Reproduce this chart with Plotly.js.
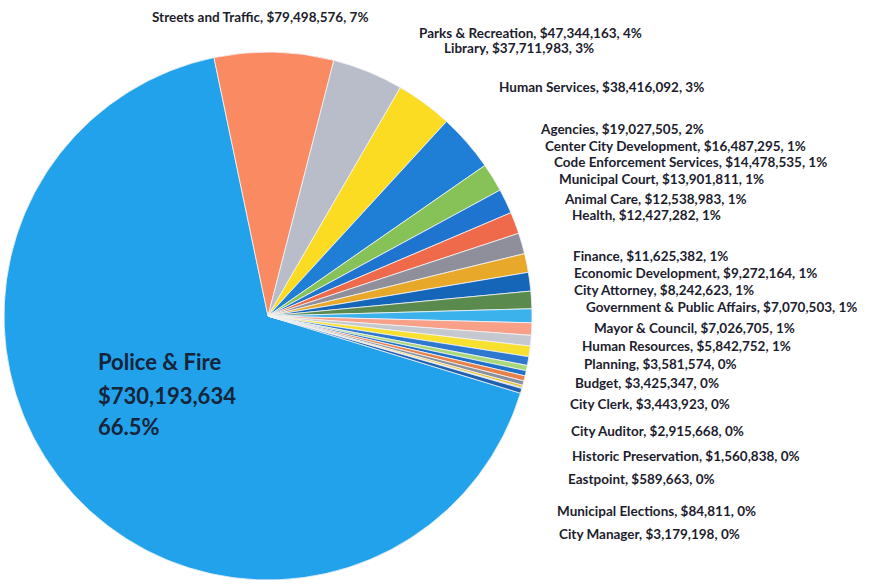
<!DOCTYPE html>
<html>
<head>
<meta charset="utf-8">
<script src="https://cdn.plot.ly/plotly-3.0.1.min.js"></script>
<style>html,body{margin:0;padding:0;background:#fff;}#chart{width:878px;height:587px;}</style>
</head>
<body>
<div id="chart"></div>
<script>
// Department budgets (USD), in chart order (clockwise)
const departments = [
  "Police & Fire", "Streets and Traffic", "Parks & Recreation", "Library", "Human Services",
  "Agencies", "Center City Development", "Code Enforcement Services", "Municipal Court",
  "Animal Care", "Health", "Finance", "Economic Development", "City Attorney",
  "Government & Public Affairs", "Mayor & Council", "Human Resources", "Planning",
  "Budget", "City Clerk", "City Auditor", "Historic Preservation", "Eastpoint",
  "Municipal Elections", "City Manager"
];
const budgets = [
  730193634, 79498576, 47344163, 37711983, 38416092,
  19027505, 16487295, 14478535, 13901811,
  12538983, 12427282, 11625382, 9272164, 8242623,
  7070503, 7026705, 5842752, 3581574,
  3425347, 3443923, 2915668, 1560838, 589663,
  84811, 3179198
];
const pctLabels = [
  "66.5%", "7%", "4%", "3%", "3%",
  "2%", "1%", "1%", "1%",
  "1%", "1%", "1%", "1%", "1%",
  "1%", "1%", "1%", "0%",
  "0%", "0%", "0%", "0%", "0%",
  "0%", "0%"
];

const sliceColors = [
  "#22a2ea", "#f98a62", "#b9bdc9", "#fbdc22", "#1f7fd6",
  "#86c258", "#1e74cf", "#ee6a4a", "#8e8f9a",
  "#e8a82a", "#1565b8", "#5b8a4f", "#3cb2ec", "#f8a088",
  "#c6c8d0", "#f8e030", "#2e78d0", "#a8d878",
  "#1e70c8", "#e8804a", "#8890a0", "#e8c020", "#1a4a90",
  "#c0d6ee", "#2060b0"
];

// label anchor positions in pixels (left x, middle y) for departments[1..]
const labelPos = [
  null, [150,17], [417,33], [442,48], [497,87],
  [538,129], [543,146], [552,162], [557,179],
  [562,199], [570,215], [571,256], [572,273], [572,290],
  [584,307], [592,328], [580,346], [582,364],
  [573,383], [568,404], [569,431], [570,456], [566,479],
  [555,511], [557,534]
];

const W = 878, H = 587;
const fmt = v => "$" + v.toLocaleString("en-US");

const annotations = [];
for (let i = 1; i < departments.length; i++) {
  const p = labelPos[i];
  annotations.push({
    xref: "paper", yref: "paper", x: p[0] / W, y: 1 - p[1] / H,
    xanchor: "left", yanchor: "middle", showarrow: false,
    text: "<b>" + departments[i] + ", " + fmt(budgets[i]) + ", " + pctLabels[i] + "</b>",
    font: {family: "Lato, 'Open Sans', sans-serif", size: 13.5, color: "#1d1d2e"}
  });
}
const mainLines = [departments[0], fmt(budgets[0]), pctLabels[0]];
const mainY = [361, 395, 426];
mainLines.forEach((t, k) => {
  annotations.push({
    xref: "paper", yref: "paper", x: 96 / W, y: 1 - mainY[k] / H,
    xanchor: "left", yanchor: "middle", showarrow: false,
    text: "<b>" + t + "</b>",
    font: {family: "Lato, 'Open Sans', sans-serif", size: 22, color: "#16243a"}
  });
});

// pie: center (268,316) px, radius 264 px
const cx = 268, cy = 316, r = 264;
const trace = {
  type: "pie",
  labels: departments,
  values: budgets,
  sort: false,
  direction: "clockwise",
  rotation: 107,
  textinfo: "none",
  hoverinfo: "label+value+percent",
  marker: {colors: sliceColors, line: {color: "#f2f4f6", width: 0.8}},
  domain: {x: [(cx - r) / W, (cx + r) / W], y: [1 - (cy + r) / H, 1 - (cy - r) / H]},
  showlegend: false
};

Plotly.newPlot("chart", [trace], {
  width: W, height: H,
  margin: {l: 0, r: 0, t: 0, b: 0},
  paper_bgcolor: "#ffffff",
  showlegend: false,
  annotations: annotations
}, {displayModeBar: false, staticPlot: true});
</script>
</body>
</html>
